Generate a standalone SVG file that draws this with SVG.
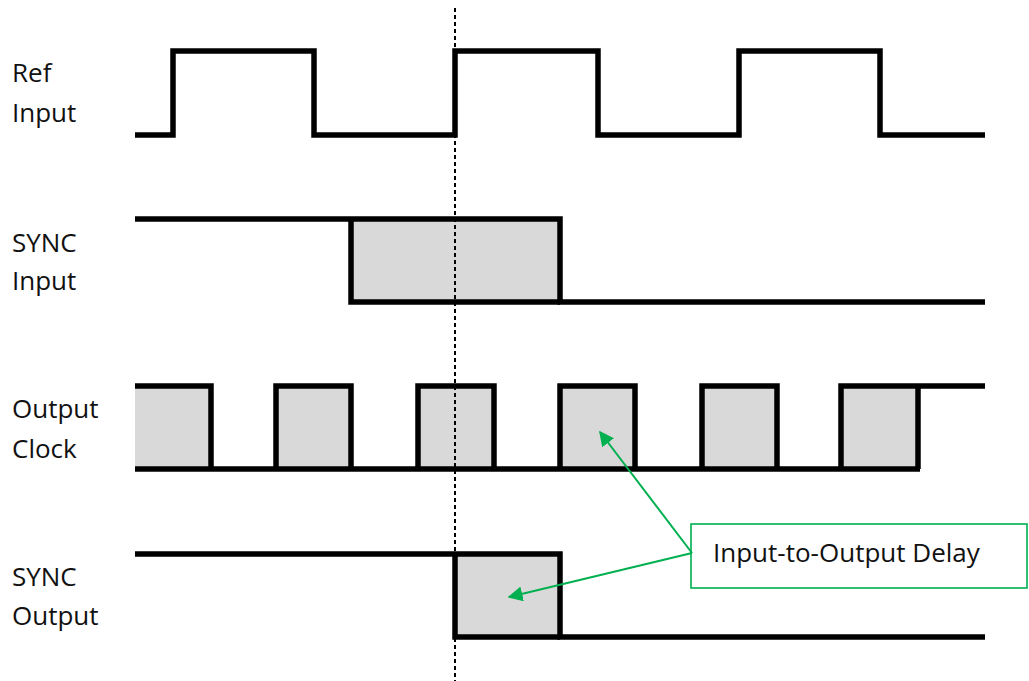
<svg xmlns="http://www.w3.org/2000/svg" width="1029" height="681" viewBox="0 0 1029 681">
<style>
  .lbl { font-family: "Open Sans", "Liberation Sans", sans-serif; font-size: 26px; fill: #111; }
  .wave { fill: none; stroke: #000; stroke-width: 5.5; stroke-linejoin: miter; stroke-linecap: butt; }
  .fillbox { fill: #d9d9d9; stroke: none; }
  .dash { fill: none; stroke: #000; stroke-width: 2; stroke-dasharray: 4 3; }
  .call { fill: none; stroke: #00b050; stroke-width: 2; }
  .callbox { fill: #fff; stroke: #00b050; stroke-width: 1.6; }
</style>
<defs>
  <marker id="ah" viewBox="0 0 10 10" refX="9" refY="5" markerWidth="7.5" markerHeight="7.5" markerUnits="strokeWidth" orient="auto">
    <path d="M0,0 L10,5 L0,10 Z" fill="#00b050"/>
  </marker>
</defs>
<rect width="1029" height="681" fill="#fff"/>

<g id="ref-input">
  <text class="lbl" x="12" y="82">Ref</text>
  <text class="lbl" x="12" y="122">Input</text>
  <polyline class="wave" points="135,135 173,135 173,51 314,51 314,135 455,135 455,51 598,51 598,135 739,135 739,51 880,51 880,135 985,135"/>
</g>

<g id="sync-input">
  <text class="lbl" x="12" y="252">SYNC</text>
  <text class="lbl" x="12" y="290">Input</text>
  <rect class="fillbox" x="351" y="219" width="209" height="83"/>
  <polyline class="wave" points="135,219 560,219 560,302 985,302"/>
  <polyline class="wave" points="351,219 351,302 560,302"/>
</g>

<g id="output-clock">
  <text class="lbl" x="12" y="418">Output</text>
  <text class="lbl" x="12" y="458">Clock</text>
  <rect class="fillbox" x="135" y="386" width="76" height="83"/>
  <rect class="fillbox" x="276" y="386" width="75" height="83"/>
  <rect class="fillbox" x="418" y="386" width="76" height="83"/>
  <rect class="fillbox" x="560" y="386" width="75" height="83"/>
  <rect class="fillbox" x="702" y="386" width="75" height="83"/>
  <rect class="fillbox" x="841" y="386" width="77" height="83"/>
  <polyline class="wave" points="135,386 211,386 211,469"/>
  <polyline class="wave" points="276,469 276,386 351,386 351,469"/>
  <polyline class="wave" points="418,469 418,386 494,386 494,469"/>
  <polyline class="wave" points="560,469 560,386 635,386 635,469"/>
  <polyline class="wave" points="702,469 702,386 777,386 777,469"/>
  <polyline class="wave" points="841,469 841,386 985,386"/>
  <line class="wave" x1="918" y1="386" x2="918" y2="469"/>
  <line class="wave" x1="135" y1="469" x2="920" y2="469"/>
</g>

<g id="sync-output">
  <text class="lbl" x="12" y="586">SYNC</text>
  <text class="lbl" x="12" y="625">Output</text>
  <rect class="fillbox" x="455" y="554" width="105" height="83"/>
  <polyline class="wave" points="135,554 560,554 560,637 985,637"/>
  <polyline class="wave" points="455,554 455,637 560,637"/>
</g>

<g id="delay-callout">
  <rect class="callbox" x="691" y="524" width="336" height="64"/>
  <text class="lbl" x="713" y="562">Input-to-Output Delay</text>
</g>

<g id="connectors">
  <line class="dash" x1="455" y1="8" x2="455" y2="681"/>
  <line class="call" x1="692" y1="553" x2="600" y2="432" marker-end="url(#ah)"/>
  <line class="call" x1="692" y1="553" x2="509" y2="597" marker-end="url(#ah)"/>
</g>
</svg>
